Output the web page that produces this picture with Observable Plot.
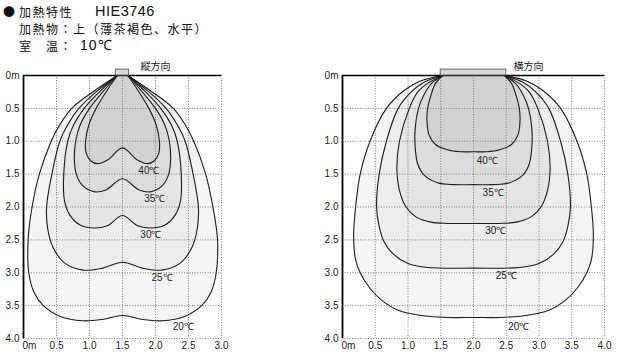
<!DOCTYPE html>
<html><head><meta charset="utf-8">
<script src="https://cdn.jsdelivr.net/npm/d3@7"></script>
<script src="https://cdn.jsdelivr.net/npm/@observablehq/plot@0.6"></script>
<style>
body{margin:0;background:#fff;width:628px;height:360px;overflow:hidden;position:relative;font-family:"Noto Sans CJK JP",sans-serif;}
.ln{position:absolute;white-space:pre;font-size:12px;letter-spacing:1.5px;line-height:17px;color:#111;}
.lat{font-family:"Liberation Sans",Arial,sans-serif;font-size:14.5px;letter-spacing:0.5px;}
#c1{position:absolute;left:0;top:56px;}
#c2{position:absolute;left:320px;top:56px;}
</style></head><body>
<div class="ln" style="left:3px;top:3px">●</div>
<div class="ln" style="left:19px;top:3px">加熱特性</div>
<div class="ln lat" style="left:95px;top:3px">HIE3746</div>
<div class="ln" style="left:19px;top:20px">加熱物：上（薄茶褐色、水平）</div>
<div class="ln" style="left:19px;top:37px">室　温：</div>
<div class="ln lat" style="left:80px;top:37px;font-size:14px;letter-spacing:1px">10℃</div>
<div id="c1"></div>
<div id="c2"></div>
<script>
// ---- tick values ----
const yTicks = [0, 0.5, 1.0, 1.5, 2.0, 2.5, 3.0, 3.5, 4.0];
const xTicksL = [0.5, 1.0, 1.5, 2.0, 2.5, 3.0];
const xTicksR = [0.5, 1.0, 1.5, 2.0, 2.5, 3.0, 3.5, 4.0];
const levels = ["20℃", "25℃", "30℃", "35℃", "40℃"];

// ---- 縦方向 (left) contours, [x m, depth m] ----
const L20 = [[1.42,0],[1.05,0.25],[0.73,0.5],[0.55,0.75],[0.42,1.0],[0.24,1.5],[0.13,2.0],[0.07,2.5],[0.08,3.0],[0.16,3.3],[0.3,3.5],[0.55,3.66],[0.9,3.73],[1.2,3.71],[1.5,3.65],[1.8,3.71],[2.1,3.73],[2.45,3.66],[2.7,3.5],[2.84,3.3],[2.92,3.0],[2.94,2.5],[2.87,2.0],[2.76,1.5],[2.58,1.0],[2.45,0.75],[2.27,0.5],[1.95,0.25],[1.58,0]];
const L25 = [[1.42,0],[1.1,0.25],[0.84,0.5],[0.67,0.75],[0.55,1.0],[0.43,1.5],[0.35,2.0],[0.37,2.35],[0.45,2.62],[0.62,2.85],[0.9,2.96],[1.2,2.93],[1.5,2.84],[1.8,2.93],[2.1,2.96],[2.38,2.85],[2.55,2.62],[2.63,2.35],[2.65,2.0],[2.57,1.5],[2.45,1.0],[2.33,0.75],[2.16,0.5],[1.9,0.25],[1.58,0]];
const L30 = [[1.42,0],[1.15,0.25],[0.92,0.5],[0.76,0.75],[0.67,1.0],[0.61,1.5],[0.62,1.9],[0.7,2.12],[0.85,2.27],[1.08,2.32],[1.28,2.28],[1.5,2.13],[1.72,2.28],[1.92,2.32],[2.15,2.27],[2.3,2.12],[2.38,1.9],[2.39,1.5],[2.33,1.0],[2.24,0.75],[2.08,0.5],[1.85,0.25],[1.58,0]];
const L35 = [[1.42,0],[1.2,0.25],[1.0,0.5],[0.86,0.75],[0.79,1.0],[0.77,1.25],[0.8,1.5],[0.9,1.68],[1.08,1.77],[1.25,1.74],[1.5,1.57],[1.75,1.74],[1.92,1.77],[2.1,1.68],[2.2,1.5],[2.23,1.25],[2.21,1.0],[2.14,0.75],[2.0,0.5],[1.8,0.25],[1.58,0]];
const L40 = [[1.42,0],[1.25,0.25],[1.1,0.5],[0.99,0.75],[0.94,1.0],[0.95,1.18],[1.02,1.3],[1.12,1.34],[1.28,1.28],[1.5,1.1],[1.72,1.28],[1.88,1.34],[1.98,1.3],[2.05,1.18],[2.06,1.0],[2.01,0.75],[1.9,0.5],[1.75,0.25],[1.58,0]];
const labelXL = [2.42, 2.1, 1.93, 1.99, 1.9];
const labelYL = [3.82, 3.07, 2.42, 1.88, 1.45];
const heaterL = [1.4, 1.6];

// ---- 横方向 (right) contours ----
const R20 = [[1.53,0],[1.2,0.08],[0.95,0.22],[0.67,0.5],[0.42,1.0],[0.27,1.5],[0.2,2.0],[0.17,2.45],[0.2,2.8],[0.27,3.0],[0.42,3.24],[0.6,3.42],[0.85,3.57],[1.2,3.65],[1.6,3.68],[2.0,3.68],[2.4,3.68],[2.8,3.65],[3.15,3.57],[3.4,3.42],[3.58,3.24],[3.73,3.0],[3.8,2.8],[3.83,2.45],[3.8,2.0],[3.73,1.5],[3.58,1.0],[3.33,0.5],[3.05,0.22],[2.8,0.08],[2.47,0]];
const R25 = [[1.53,0],[1.25,0.1],[1.05,0.25],[0.85,0.5],[0.67,1.0],[0.56,1.5],[0.52,2.0],[0.56,2.3],[0.63,2.52],[0.78,2.72],[1.0,2.86],[1.3,2.92],[2.0,2.93],[2.7,2.92],[3.0,2.86],[3.22,2.72],[3.37,2.52],[3.44,2.3],[3.48,2.0],[3.44,1.5],[3.33,1.0],[3.15,0.5],[2.95,0.25],[2.75,0.1],[2.47,0]];
const R30 = [[1.53,0],[1.3,0.12],[1.15,0.25],[1.02,0.5],[0.87,1.0],[0.83,1.4],[0.87,1.75],[0.97,2.0],[1.12,2.15],[1.35,2.23],[1.6,2.25],[2.0,2.25],[2.4,2.25],[2.65,2.23],[2.88,2.15],[3.03,2.0],[3.13,1.75],[3.17,1.4],[3.13,1.0],[2.98,0.5],[2.85,0.25],[2.7,0.12],[2.47,0]];
const R35 = [[1.53,0],[1.36,0.12],[1.24,0.3],[1.16,0.5],[1.11,0.8],[1.11,1.1],[1.15,1.35],[1.25,1.52],[1.45,1.63],[1.7,1.66],[2.0,1.66],[2.3,1.66],[2.55,1.63],[2.75,1.52],[2.85,1.35],[2.89,1.1],[2.89,0.8],[2.84,0.5],[2.76,0.3],[2.64,0.12],[2.47,0]];
const R40 = [[1.53,0],[1.42,0.12],[1.35,0.3],[1.30,0.5],[1.29,0.7],[1.32,0.9],[1.42,1.05],[1.6,1.13],[1.8,1.16],[2.0,1.16],[2.2,1.16],[2.4,1.13],[2.58,1.05],[2.68,0.9],[2.71,0.7],[2.70,0.5],[2.65,0.3],[2.58,0.12],[2.47,0]];
const labelXR = [2.69, 2.5, 2.34, 2.3, 2.21];
const labelYR = [3.82, 3.05, 2.36, 1.78, 1.29];
const heaterR = [1.5, 2.5];

const fills = ["#f5f5f5", "#ededed", "#e5e5e5", "#dcdcdc", "#d2d2d2"];
const fmt = d => d === 0 ? "0m" : d.toFixed(1);
const FONT = "Liberation Sans, Arial, sans-serif";

function chart(contours, xMax, xTicks, heater, labX, labY, dirLabel, dirX, width, mL, mR) {
  const marks = [];
  contours.forEach((c, i) => marks.push(Plot.line(c, {curve: "catmull-rom", fill: fills[i], stroke: "none"})));
  marks.push(Plot.ruleX(xTicks, {y1: 0, y2: 4, stroke: "#7a7a7a", strokeWidth: 1, strokeDasharray: "1,1.6"}));
  marks.push(Plot.ruleY(yTicks.slice(1), {x1: 0, x2: xMax, stroke: "#7a7a7a", strokeWidth: 1, strokeDasharray: "1,1.6"}));
  contours.forEach(c => marks.push(Plot.line(c, {curve: "catmull-rom", stroke: "#1c1c1c", strokeWidth: 1.1})));
  marks.push(Plot.ruleY([0], {x1: 0, x2: xMax, stroke: "#000", strokeWidth: 1.6}));
  marks.push(Plot.ruleX([0], {y1: 0, y2: 4, stroke: "#000", strokeWidth: 1.8}));
  marks.push(Plot.rect([heater], {x1: d => d[0], x2: d => d[1], y1: -0.09, y2: 0, fill: "#d8d8d8", stroke: "#666", strokeWidth: 1}));
  marks.push(Plot.text([dirLabel], {x: dirX, y: -0.125, fontFamily: "Noto Sans CJK JP", fontSize: 10, fill: "#222"}));
  marks.push(Plot.text(levels, {x: (d, i) => labX[i], y: (d, i) => labY[i], text: d => d, fontFamily: FONT, fontSize: 10, fill: "#222"}));
  marks.push(Plot.text(yTicks, {x: 0, y: d => d, text: fmt, textAnchor: "end", dx: -4, fontFamily: FONT, fontSize: 10, fill: "#222"}));
  marks.push(Plot.text(xTicks, {x: d => d, y: 4, text: fmt, dy: 7, fontFamily: FONT, fontSize: 10, fill: "#222"}));
  marks.push(Plot.text([0], {x: d => d, y: 4, text: fmt, dy: 7, dx: 6, fontFamily: FONT, fontSize: 10, fill: "#222"}));
  return Plot.plot({
    width, height: 304, marginLeft: mL, marginRight: mR, marginTop: 19, marginBottom: 22,
    x: {domain: [0, xMax], axis: null},
    y: {domain: [0, 4], reverse: true, axis: null},
    style: {background: "transparent", overflow: "visible", fontFamily: FONT},
    marks
  });
}

document.getElementById("c1").append(chart([L20, L25, L30, L35, L40], 3, xTicksL, heaterL, labelXL, labelYL, "縦方向", 2.0, 240, 23, 19));
document.getElementById("c2").append(chart([R20, R25, R30, R35, R40], 4, xTicksR, heaterR, labelXR, labelYR, "横方向", 2.84, 308, 22, 24));
</script>
</body></html>
